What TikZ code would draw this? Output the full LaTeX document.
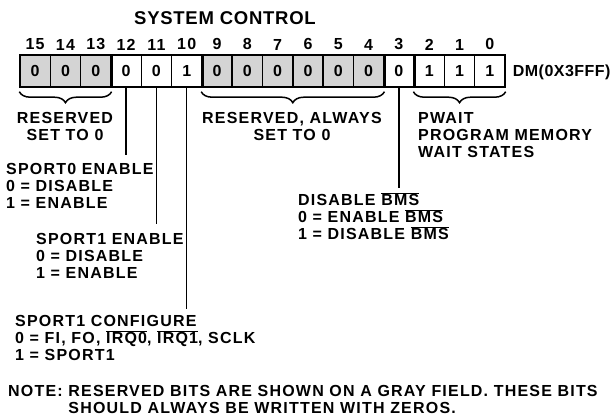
\documentclass[tikz,border=0pt]{standalone}
\usepackage{fontspec}
\setmainfont{Liberation Sans}[LetterSpace=7.5]
\newfontfamily\titlefont{Liberation Sans}[LetterSpace=4]
\newfontfamily\dmfont{Liberation Sans}[LetterSpace=3]
\usetikzlibrary{positioning,decorations.pathreplacing}
\newcommand\ovl[1]{$\overline{\mbox{#1}}$}

\begin{document}
\begin{tikzpicture}[
    x=1pt, y=-1pt,
    every node/.style={font=\bfseries\fontsize{16}{17}\selectfont, inner sep=0pt},
    bitcell/.style={draw, line width=1.4pt, minimum width=30.3pt, minimum height=32pt, fill=white},
    rescell/.style={bitcell, fill=black!17},
    lbl/.style={align=left, anchor=north west},
    clbl/.style={align=center, anchor=north},
    grp/.style={line width=2.8pt},
    lead/.style={line width=1.5pt},
    brc/.style={decorate, decoration={brace, mirror, amplitude=11pt}, line width=1.5pt}
]
  \useasboundingbox (0,0) rectangle (616,417);

  \node[font=\titlefont\bfseries\fontsize{18.5}{20}\selectfont] (title) at (225,18.5) {SYSTEM CONTROL};

  % register cells and bit numbers
  \foreach \bit/\val/\sty in {15/0/rescell,14/0/rescell,13/0/rescell,12/0/bitcell,11/0/bitcell,10/1/bitcell,
      9/0/rescell,8/0/rescell,7/0/rescell,6/0/rescell,5/0/rescell,4/0/rescell,3/0/bitcell,2/1/bitcell,1/1/bitcell,0/1/bitcell}{
    \node[\sty] (b\bit) at ({20+(15.5-\bit)*30.3125}, 71) {\val};
    \node[above=4pt of b\bit] (n\bit) {\bit};
  }
  \foreach \g in {13,10,4,3}
    \draw[grp] (b\g.north east) -- (b\g.south east);

  \node[anchor=base west, font=\dmfont\bfseries\fontsize{16}{17}\selectfont] (dm) at ([xshift=7pt,yshift=-5.6pt]b0.east) {DM(0X3FFF)};

  % field descriptions
  \node[clbl] (resv1) at (65,112) {RESERVED\\SET TO 0};
  \node[clbl] (resv2) at (292,112) {RESERVED, ALWAYS\\SET TO 0};
  \node[lbl] (pwait) at (418,112) {PWAIT\\PROGRAM MEMORY\\WAIT STATES};
  \node[lbl] (sp0) at (6,163) {SPORT0 ENABLE\\0 = DISABLE\\1 = ENABLE};
  \node[lbl] (sp1) at (36,233) {SPORT1 ENABLE\\0 = DISABLE\\1 = ENABLE};
  \node[lbl] (bms) at (298,192) {DISABLE \ovl{BMS}\\0 = ENABLE \ovl{BMS}\\1 = DISABLE \ovl{BMS}};
  \node[lbl] (sp1c) at (15,315) {SPORT1 CONFIGURE\\0 = FI, FO, \ovl{IRQ0}, \ovl{IRQ1}, SCLK\\1 = SPORT1};
  \node[lbl] (note) at (8,385) {NOTE: RESERVED BITS ARE SHOWN ON A GRAY FIELD. THESE BITS\\\phantom{NOTE: }SHOULD ALWAYS BE WRITTEN WITH ZEROS.};

  % braces
  \draw[brc] ([yshift=-4pt]b15.south west) -- ([yshift=-4pt]b13.south east);
  \draw[brc] ([yshift=-4pt]b9.south west) -- ([yshift=-4pt]b4.south east);
  \draw[brc] ([yshift=-4pt]b2.south west) -- ([yshift=-4pt]b0.south east);

  % leaders
  \draw[lead] (b12.south) -- ([yshift=8pt]b12.south |- sp0.north);
  \draw[lead] (b11.south) -- ([yshift=9pt]b11.south |- sp1.north);
  \draw[lead] (b10.south) -- ([yshift=6pt]b10.south |- sp1c.north);
  \draw[lead] (b3.south) -- ([yshift=4pt]b3.south |- bms.north);
\end{tikzpicture}
\end{document}
